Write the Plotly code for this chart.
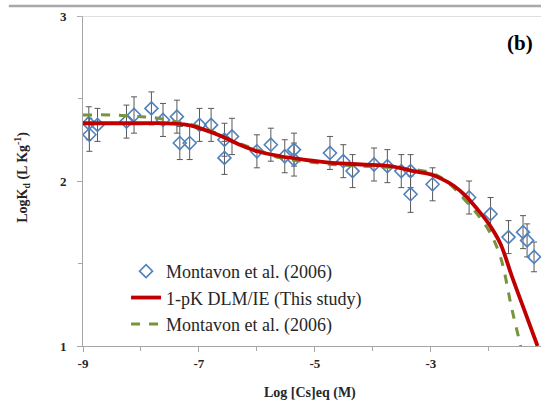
import plotly.graph_objects as go

# measured data (Montavon et al. 2006)
cs_meas = [-8.90, -8.89, -8.75, -8.25, -8.12, -7.82, -7.62, -7.38, -7.33, -7.16,
           -6.99, -6.79, -6.56, -6.56, -6.43, -6.00, -5.76, -5.52, -5.36, -5.36,
           -4.74, -4.51, -4.35, -3.98, -3.75, -3.51, -3.35, -3.35, -2.97, -2.34,
           -1.97, -1.66, -1.41, -1.34, -1.22]
logkd_meas = [2.35, 2.28, 2.34, 2.36, 2.40, 2.44, 2.37, 2.39, 2.23, 2.23,
              2.34, 2.34, 2.25, 2.14, 2.27, 2.18, 2.22, 2.15, 2.19, 2.13,
              2.17, 2.12, 2.06, 2.10, 2.09, 2.06, 2.06, 1.92, 1.98, 1.90,
              1.80, 1.66, 1.69, 1.64, 1.54]
logkd_err = [0.10, 0.10, 0.10, 0.10, 0.11, 0.10, 0.10, 0.10, 0.10, 0.10,
             0.10, 0.10, 0.10, 0.10, 0.11, 0.10, 0.10, 0.10, 0.10, 0.10,
             0.10, 0.10, 0.10, 0.10, 0.10, 0.10, 0.10, 0.11, 0.10, 0.10,
             0.10, 0.10, 0.10, 0.10, 0.09]

# 1-pK DLM/IE model (this study)
cs_dlm = [-9.0, -8.0, -7.6, -7.2, -6.9, -6.6, -6.3, -6.0, -5.6, -5.2, -4.7,
          -4.2, -3.7, -3.3, -3.0, -2.8, -2.6, -2.4, -2.2, -2.0, -1.8, -1.6,
          -1.4, -1.16]
logkd_dlm = [2.35, 2.35, 2.35, 2.34, 2.31, 2.27, 2.22, 2.18, 2.15, 2.13, 2.11,
             2.10, 2.09, 2.06, 2.04, 2.01, 1.97, 1.91, 1.83, 1.74, 1.62, 1.42,
             1.23, 1.00]

# Montavon et al. (2006) model
cs_mont = [-9.0, -8.5, -8.0, -7.7, -7.4, -7.0, -6.7, -6.4, -6.0, -5.6, -5.2,
           -4.7, -4.2, -3.6, -3.0, -2.7, -2.4, -2.2, -2.0, -1.8, -1.6, -1.45]
logkd_mont = [2.40, 2.40, 2.39, 2.38, 2.36, 2.33, 2.29, 2.24, 2.19, 2.14, 2.12,
              2.10, 2.09, 2.08, 2.05, 1.99, 1.88, 1.80, 1.70, 1.54, 1.22, 1.00]

x_tick_vals = [-9, -7, -5, -3]
x_tick_text = ["-9", "-7", "-5", "-3"]
y_tick_vals = [1, 2, 3]

SERIF = "Liberation Serif"
AXIS_GREY = "#a6a6a6"

fig = go.Figure()

fig.add_trace(go.Scatter(
    x=cs_meas, y=logkd_meas, mode="markers", name="Montavon et al. (2006)",
    marker=dict(symbol="diamond-open", size=10, color="#4f81bd",
                line=dict(width=1.6, color="#4f81bd")),
    error_y=dict(type="data", array=logkd_err, color="#595959",
                 thickness=1, width=3),
    legendrank=1,
))
fig.add_trace(go.Scatter(
    x=cs_mont, y=logkd_mont, mode="lines", name="Montavon et al. (2006)",
    line=dict(color="#77933c", width=3, dash="dash", shape="spline"),
    legendrank=3,
))
fig.add_trace(go.Scatter(
    x=cs_dlm, y=logkd_dlm, mode="lines", name="1-pK DLM/IE (This study)",
    line=dict(color="#c00000", width=3.8, shape="spline"),
    legendrank=2,
))

fig.update_layout(
    width=541, height=407,
    margin=dict(l=83, r=0, t=16, b=61),
    paper_bgcolor="white", plot_bgcolor="white",
    showlegend=True,
    legend=dict(x=0.094, y=0.282, xanchor="left", yanchor="top",
                bgcolor="rgba(0,0,0,0)",
                font=dict(family=SERIF, size=18, color="#262626"),
                tracegroupgap=0),
)

fig.update_xaxes(
    range=[-9, -1.1], showgrid=False, zeroline=False,
    showline=True, linecolor=AXIS_GREY, linewidth=1,
    tickmode="array", tickvals=x_tick_vals, ticktext=x_tick_text,
    ticks="outside", ticklen=5, tickcolor=AXIS_GREY,
    minor=dict(tickvals=[-8, -6, -4, -2], ticks="outside", ticklen=4,
               tickcolor=AXIS_GREY),
    tickfont=dict(family=SERIF, size=13, color="#262626", weight="bold"),
)
fig.update_yaxes(
    range=[1, 3], showgrid=False, zeroline=False,
    showline=True, linecolor=AXIS_GREY, linewidth=1,
    tickmode="array", tickvals=y_tick_vals,
    ticks="outside", ticklen=5, tickcolor=AXIS_GREY, ticklabelstandoff=8,
    minor=dict(tickvals=[1.5, 2.5], ticks="outside", ticklen=4,
               tickcolor=AXIS_GREY),
    tickfont=dict(family=SERIF, size=13, color="#262626", weight="bold"),
)

# top line at y=3 and the frame line above the chart
fig.add_shape(type="line", xref="paper", yref="y", x0=-0.011, x1=1, y0=3, y1=3,
              line=dict(color="#bfbfbf", width=1))
fig.add_shape(type="line", xref="paper", yref="paper", x0=-0.162, x1=1,
              y0=1.03, y1=1.03, line=dict(color="#a8a8a8", width=2.5))

fig.add_annotation(text="<b>Log [Cs]eq (M)</b>", xref="paper", yref="paper",
                   x=0.496, y=-0.142, showarrow=False, xanchor="center",
                   yanchor="middle", font=dict(family=SERIF, size=14, color="#262626"))
fig.add_annotation(text="<b>LogK<sub>d</sub> (L Kg<sup>-1</sup>)</b>", xref="paper",
                   yref="paper", x=-0.133, y=0.51, textangle=-90, showarrow=False,
                   xanchor="center", yanchor="middle",
                   font=dict(family=SERIF, size=14, color="#262626"))
fig.add_annotation(text="<b>(b)</b>", xref="paper", yref="paper", x=0.955, y=0.918,
                   showarrow=False, xanchor="center", yanchor="middle",
                   font=dict(family=SERIF, size=21, color="black"))

# the page body has a default 8px margin; drop it so the figure fills the window
fig.write_html("out.html", config={"displayModeBar": False},
               post_script="document.body.style.margin='0px';")
